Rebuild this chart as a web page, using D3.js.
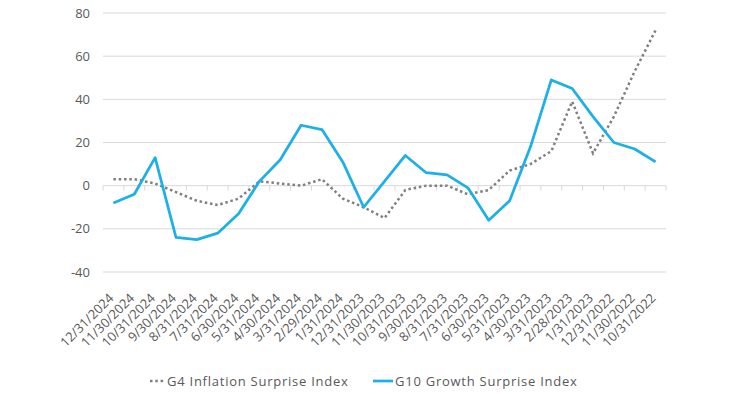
<!DOCTYPE html>
<html>
<head>
<meta charset="utf-8">
<script src="https://cdn.jsdelivr.net/npm/d3@7"></script>
<style>
  html, body { margin: 0; padding: 0; background: #fff; }
  svg { display: block; }
  text { font-family: "Open Sans", "Noto Sans", sans-serif; fill: #595959; }
</style>
</head>
<body>
<svg id="chart" width="755" height="394"></svg>
<script>
const categories = ["12/31/2024","11/30/2024","10/31/2024","9/30/2024","8/31/2024","7/31/2024","6/30/2024","5/31/2024","4/30/2024","3/31/2024","2/29/2024","1/31/2024","12/31/2023","11/30/2023","10/31/2023","9/30/2023","8/31/2023","7/31/2023","6/30/2023","5/31/2023","4/30/2023","3/31/2023","2/28/2023","1/31/2023","12/31/2022","11/30/2022","10/31/2022"];
const g4Inflation = [3,3,1,-3,-7,-9,-6,2,1,0,3,-6,-10,-15,-2,0,0,-4,-2,7,10,16,39,15,32,53,72];
const g10Growth = [-8,-4,13,-24,-25,-22,-13,2,12,28,26,11,-10,2,14,6,5,-1,-16,-7,18,49,45,32,20,17,11];
const yTicks = [-40,-20,0,20,40,60,80];
const seriesNames = ["G4 Inflation Surprise Index", "G10 Growth Surprise Index"];

(function () {
const svg = d3.select("#chart");
const mLeft = 103, mRight = 666, mTop = 13, mBottom = 272;

const x = d3.scaleBand().domain(categories).range([mLeft, mRight]);
const y = d3.scaleLinear().domain([-40, 80]).range([mBottom, mTop]);
const cx = d => x(d) + x.bandwidth() / 2;

// gridlines
svg.append("g").selectAll("line").data(yTicks.filter(t => t !== 0)).join("line")
  .attr("x1", mLeft).attr("x2", mRight)
  .attr("y1", d => y(d)).attr("y2", d => y(d))
  .attr("stroke", "#d9d9d9").attr("stroke-width", 1);

// y labels
svg.append("g").selectAll("text").data(yTicks).join("text")
  .attr("x", 90).attr("y", d => y(d)).attr("dy", "0.35em")
  .attr("text-anchor", "end").attr("font-size", 13)
  .text(d => d);

// zero axis with ticks
const zeroY = y(0);
svg.append("line").attr("x1", mLeft).attr("x2", mRight)
  .attr("y1", zeroY).attr("y2", zeroY).attr("stroke", "#d9d9d9").attr("stroke-width", 1);
const bounds = categories.map(c => x(c)).concat([mRight]);
svg.append("g").selectAll("line").data(bounds).join("line")
  .attr("x1", d => d).attr("x2", d => d)
  .attr("y1", zeroY).attr("y2", zeroY + 5)
  .attr("stroke", "#d9d9d9").attr("stroke-width", 1);

// x labels
svg.append("g").selectAll("text").data(categories).join("text")
  .attr("transform", d => `translate(${cx(d) + 1},${mBottom + 27}) rotate(-45)`)
  .attr("text-anchor", "end").attr("font-size", 13)
  .text(d => d);

const line = d3.line().x((d, i) => cx(categories[i])).y(d => y(d));

svg.append("path").datum(g4Inflation)
  .attr("d", line).attr("fill", "none")
  .attr("stroke", "#7f7f7f").attr("stroke-width", 2.5)
  .attr("stroke-dasharray", "2.5,2.8");

svg.append("path").datum(g10Growth)
  .attr("d", line).attr("fill", "none")
  .attr("stroke", "#1cb0e6").attr("stroke-width", 2.75)
  .attr("stroke-linejoin", "round");

// legend
const ly = 381;
svg.append("line").attr("x1", 150).attr("x2", 164).attr("y1", ly).attr("y2", ly)
  .attr("stroke", "#7f7f7f").attr("stroke-width", 2.5).attr("stroke-dasharray", "2.5,2.8");
svg.append("text").attr("x", 167).attr("y", ly).attr("dy", "0.35em").attr("font-size", 13)
  .attr("letter-spacing", 0.75).text(seriesNames[0]);
svg.append("line").attr("x1", 373).attr("x2", 393).attr("y1", ly).attr("y2", ly)
  .attr("stroke", "#1cb0e6").attr("stroke-width", 2.75);
svg.append("text").attr("x", 395).attr("y", ly).attr("dy", "0.35em").attr("font-size", 13)
  .attr("letter-spacing", 0.75).text(seriesNames[1]);
})();
</script>
</body>
</html>
